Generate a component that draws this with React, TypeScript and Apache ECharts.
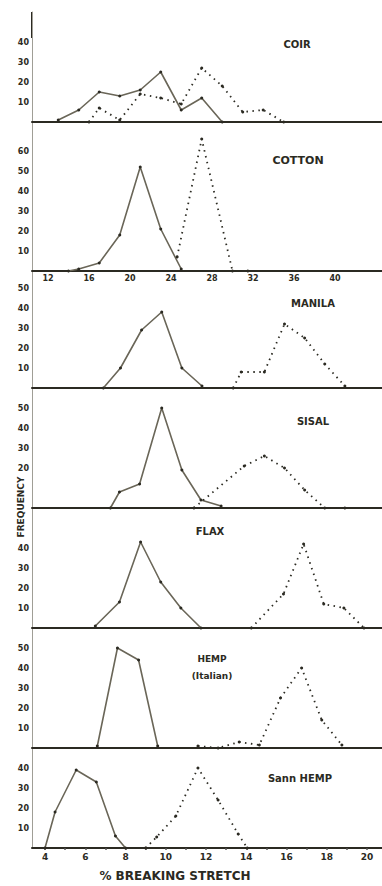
import React, { useEffect, useRef } from "react";
import * as echarts from "echarts";

// ---- Data (x = % breaking stretch, y = frequency) ----
const coirSolidX = [13, 15, 17, 19, 21, 23, 25, 27, 29];
const coirSolidY = [1, 6, 15, 13, 16, 25, 6, 12, 0];
const coirDotX = [16, 17, 19, 21, 23, 25, 27, 29, 31, 33, 35];
const coirDotY = [0, 7, 1, 14, 12, 9, 27, 18, 5, 6, 0];

const cottonSolidX = [14, 15, 17, 19, 21, 23, 25];
const cottonSolidY = [0, 1, 4, 18, 52, 21, 1];
const cottonDotX = [24.6, 27, 30, 31.5];
const cottonDotY = [7, 66, 0, 0];

const manilaSolidX = [6.9, 7.75, 8.8, 9.8, 10.8, 11.8];
const manilaSolidY = [0, 10, 29, 38, 10, 1];
const manilaDotX = [13.35, 13.75, 14.9, 15.9, 16.9, 17.9, 18.9];
const manilaDotY = [0, 8, 8, 32, 25, 12, 1];

const sisalSolidX = [7.25, 7.7, 8.7, 9.8, 10.8, 11.75, 12.75];
const sisalSolidY = [0, 8, 12, 50, 19, 4, 1];
const sisalDotX = [11.4, 13.9, 14.9, 15.9, 16.9, 17.9, 18.9];
const sisalDotY = [0, 21, 26, 20, 9, 0, 0];

const flaxSolidX = [6.5, 7.7, 8.75, 9.75, 10.75, 11.75];
const flaxSolidY = [1, 13, 43, 23, 10, 0];
const flaxDotX = [14.25, 15.85, 16.85, 17.85, 18.85, 19.85];
const flaxDotY = [0, 17, 42, 12, 10, 0];

const hempSolidX = [6.6, 7.6, 8.65, 9.6];
const hempSolidY = [1, 50, 44, 1];
const hempDotX = [11.6, 12.6, 13.65, 14.65, 15.7, 16.75, 17.75, 18.75];
const hempDotY = [1, 0, 3, 1.5, 25, 40, 14, 1.5];

const sannSolidX = [4, 4.5, 5.55, 6.55, 7.5, 8];
const sannSolidY = [0, 18, 39, 33, 6, 0];
const sannDotX = [9, 9.55, 10.5, 11.6, 12.6, 13.6, 14.05];
const sannDotY = [0, 5.5, 16, 40, 24, 7, 0];

const upperTicks = [12, 16, 20, 24, 28, 32, 36, 40];
const lowerTicks = [4, 6, 8, 10, 12, 14, 16, 18, 20];
const lowerMinorTicks = [4, 5, 6, 7, 8, 9, 10, 11, 12, 13, 14, 15, 16, 17, 18, 19, 20];

const panelTitles = ["COIR", "COTTON", "MANILA", "SISAL", "FLAX", "HEMP", "Sann HEMP"];

// ---- Layout ----
const W = 382;
const H = 886;
const LEFT = 32;
const panelTop = [12, 122, 271, 388, 508, 628, 748];
const panelBase = [122, 271, 388, 508, 628, 748, 848];
const yLabelMin = [10, 10, 10, 20, 10, 10, 10];
const yLabelMax = [40, 60, 50, 50, 40, 50, 40];
const scaleKind = ["upper", "upper", "lower", "lower", "lower", "lower", "lower"];
const upperRange = [10.44, 44.59];
const lowerRange = [3.354, 20.745];

const pairs = (xs: number[], ys: number[]) => xs.map((x, i) => [x, ys[i]]);

const solidSets = [
  pairs(coirSolidX, coirSolidY),
  pairs(cottonSolidX, cottonSolidY),
  pairs(manilaSolidX, manilaSolidY),
  pairs(sisalSolidX, sisalSolidY),
  pairs(flaxSolidX, flaxSolidY),
  pairs(hempSolidX, hempSolidY),
  pairs(sannSolidX, sannSolidY),
];
const dotSets = [
  pairs(coirDotX, coirDotY),
  pairs(cottonDotX, cottonDotY),
  pairs(manilaDotX, manilaDotY),
  pairs(sisalDotX, sisalDotY),
  pairs(flaxDotX, flaxDotY),
  pairs(hempDotX, hempDotY),
  pairs(sannDotX, sannDotY),
];

const INK = "#2b2a22";
const SOLID = "#6a6658";
const FONT = "DejaVu Sans";

export default function App() {
  const ref = useRef<HTMLDivElement>(null);

  useEffect(() => {
    if (!ref.current) return;
    const chart = echarts.init(ref.current, undefined, { renderer: "svg" });

    const grids: any[] = [];
    const xAxes: any[] = [];
    const yAxes: any[] = [];
    const series: any[] = [];

    for (let i = 0; i < 7; i++) {
      const h = panelBase[i] - panelTop[i];
      grids.push({ left: LEFT, top: panelTop[i], width: W - LEFT, height: h });
      const upper = scaleKind[i] === "upper";
      const range = upper ? upperRange : lowerRange;
      const showLabels = i === 1 || i === 6;
      xAxes.push({
        type: "value",
        gridIndex: i,
        min: range[0],
        max: range[1],
        splitLine: { show: false },
        axisLine: { show: true, lineStyle: { color: INK, width: 2 } },
        axisTick: {
          show: i === 6,
          customValues: lowerMinorTicks,
          length: 2,
          inside: false,
          lineStyle: { color: "#555", width: 1.5 },
        },
        axisLabel: {
          show: showLabels,
          customValues: upper ? upperTicks : lowerTicks,
          fontFamily: FONT,
          fontWeight: "bold",
          fontSize: i === 1 ? 8 : 9,
          color: INK,
          margin: i === 1 ? 3 : 4,
        },
      });
      const yMax = h / 2;
      const lo = yLabelMin[i];
      const hi = yLabelMax[i];
      yAxes.push({
        type: "value",
        gridIndex: i,
        min: 0,
        max: yMax,
        interval: 10,
        splitLine: { show: false },
        axisLine: {
          show: true,
          onZero: false,
          lineStyle: { color: "#a09e96", width: 1 },
        },
        axisTick: { show: false },
        axisLabel: {
          fontFamily: FONT,
          fontWeight: "bold",
          fontSize: 8,
          color: INK,
          margin: 3,
          showMaxLabel: false,
          formatter: (v: number) => (v >= lo && v <= hi ? String(v) : ""),
        },
      });
      series.push({
        type: "line",
        xAxisIndex: i,
        yAxisIndex: i,
        data: solidSets[i],
        symbol: "circle",
        symbolSize: 3,
        lineStyle: { color: SOLID, width: 1.6, type: "solid" },
        itemStyle: { color: INK },
        silent: true,
      });
      series.push({
        type: "line",
        xAxisIndex: i,
        yAxisIndex: i,
        data: dotSets[i],
        symbol: "circle",
        symbolSize: 3,
        lineStyle: { color: INK, width: 1.8, type: [1.5, 4.5] },
        itemStyle: { color: INK },
        silent: true,
      });
    }

    const titleStyle = (x: number, y: number, text: string, size = 10) => ({
      type: "text",
      x,
      y,
      style: {
        text,
        fill: INK,
        font: `bold ${size}px "${FONT}"`,
        align: "center",
        verticalAlign: "middle",
      },
    });

    const graphic: any[] = [
      {
        type: "line",
        shape: { x1: LEFT, y1: 12, x2: LEFT, y2: 38 },
        style: { stroke: "#2b2a22", lineWidth: 2 },
      },
      titleStyle(297, 44, panelTitles[0]),
      titleStyle(298, 160, panelTitles[1], 11),
      titleStyle(313, 303, panelTitles[2]),
      titleStyle(313, 421, panelTitles[3]),
      titleStyle(210, 531, panelTitles[4]),
      titleStyle(212, 659, panelTitles[5], 9),
      titleStyle(212, 676, "(Italian)", 9),
      titleStyle(300, 778, panelTitles[6]),
      titleStyle(175, 876, "% BREAKING STRETCH", 12),
      {
        type: "text",
        x: 21,
        y: 507,
        rotation: Math.PI / 2,
        style: {
          text: "FREQUENCY",
          fill: INK,
          font: `bold 9px "${FONT}"`,
          align: "center",
          verticalAlign: "middle",
        },
      },
    ];

    chart.setOption({
      animation: false,
      backgroundColor: "#ffffff",
      grid: grids,
      xAxis: xAxes,
      yAxis: yAxes,
      series,
      graphic,
    });

    return () => chart.dispose();
  }, []);

  return (
    <div
      ref={ref}
      style={{ position: "fixed", left: 0, top: 0, width: W, height: H, background: "#fff" }}
    />
  );
}
